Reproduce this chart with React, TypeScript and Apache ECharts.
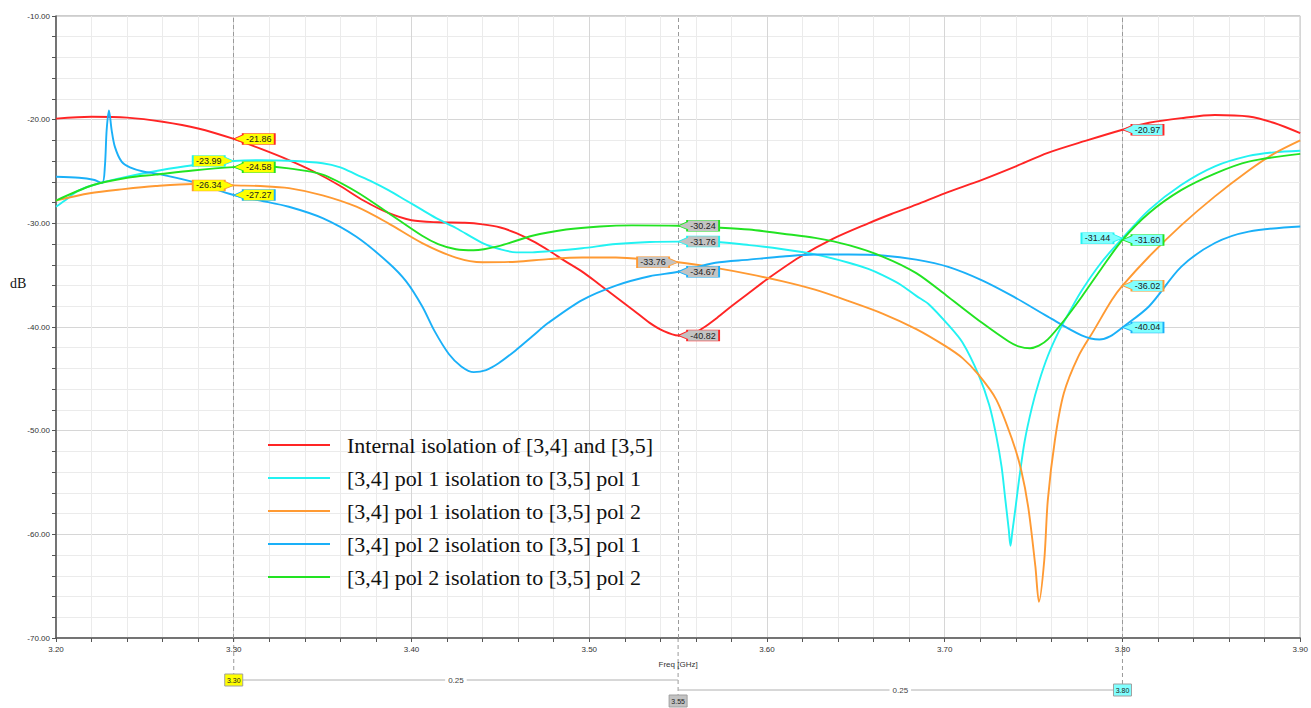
import React, { useEffect, useRef } from "react";
import * as echarts from "echarts";

// ---------- data ----------
const SERIES_NAMES = [
  "Internal isolation of [3,4] and [3,5]",
  "[3,4] pol 1 isolation to [3,5] pol 1",
  "[3,4] pol 1 isolation to [3,5] pol 2",
  "[3,4] pol 2 isolation to [3,5] pol 1",
  "[3,4] pol 2 isolation to [3,5] pol 2",
];
const SERIES_COLORS = ["#ff2525", "#22f2f2", "#ff9a33", "#1ab0f8", "#22e322"];

const FREQ_RED = [3.2, 3.22, 3.24, 3.26, 3.28, 3.3, 3.315, 3.331, 3.345, 3.359, 3.373, 3.387, 3.4, 3.415, 3.43, 3.44, 3.45, 3.459, 3.468, 3.477, 3.486, 3.496, 3.505, 3.515, 3.525, 3.534, 3.542, 3.55, 3.557, 3.564, 3.572, 3.58, 3.59, 3.6, 3.618, 3.637, 3.657, 3.67, 3.684, 3.7, 3.721, 3.74, 3.758, 3.78, 3.8, 3.815, 3.833, 3.852, 3.871, 3.885, 3.9];
const DB_RED = [-19.9, -19.72, -19.8, -20.2, -20.85, -21.86, -22.8, -23.9, -25.0, -26.3, -27.8, -29.0, -29.7, -29.9, -29.95, -30.1, -30.4, -30.95, -31.7, -32.6, -33.6, -34.66, -35.8, -37.1, -38.4, -39.6, -40.4, -40.82, -40.75, -40.1, -39.1, -38.0, -36.7, -35.4, -33.3, -31.5, -30.0, -29.1, -28.2, -27.1, -25.8, -24.5, -23.2, -22.0, -20.97, -20.3, -19.85, -19.55, -19.7, -20.3, -21.3];

const FREQ_CYAN = [3.2, 3.205, 3.212, 3.221, 3.24, 3.258, 3.277, 3.3, 3.315, 3.331, 3.35, 3.36, 3.369, 3.378, 3.387, 3.397, 3.406, 3.415, 3.425, 3.44, 3.45, 3.459, 3.468, 3.477, 3.496, 3.515, 3.534, 3.55, 3.571, 3.59, 3.609, 3.627, 3.646, 3.657, 3.665, 3.675, 3.684, 3.691, 3.702, 3.71, 3.719, 3.725, 3.729, 3.732, 3.734, 3.736, 3.737, 3.738, 3.74, 3.742, 3.745, 3.749, 3.753, 3.758, 3.764, 3.77, 3.777, 3.788, 3.8, 3.815, 3.833, 3.852, 3.871, 3.885, 3.9];
const DB_CYAN = [-28.4, -27.8, -26.9, -26.3, -25.5, -24.9, -24.4, -23.99, -23.9, -23.96, -24.2, -24.6, -25.3, -26.0, -26.8, -27.8, -28.7, -29.6, -30.45, -31.9, -32.5, -32.8, -32.8, -32.7, -32.4, -32.0, -31.8, -31.76, -31.8, -32.1, -32.5, -33.0, -33.8, -34.4, -35.0, -35.9, -37.0, -37.8, -39.8, -41.5, -44.6, -47.5, -50.5, -53.5, -56.5, -59.5, -61.1, -59.8, -57.2, -54.5, -51.0, -47.8, -45.3, -42.8, -40.5, -38.6, -36.5, -33.8, -31.44, -28.7, -26.3, -24.5, -23.5, -23.15, -23.0];

const FREQ_ORANGE = [3.2, 3.219, 3.238, 3.256, 3.277, 3.3, 3.315, 3.331, 3.35, 3.369, 3.387, 3.406, 3.425, 3.44, 3.459, 3.477, 3.496, 3.515, 3.534, 3.55, 3.571, 3.59, 3.609, 3.627, 3.646, 3.665, 3.684, 3.7, 3.71, 3.719, 3.729, 3.738, 3.743, 3.747, 3.751, 3.753, 3.756, 3.758, 3.762, 3.767, 3.775, 3.784, 3.794, 3.8, 3.815, 3.833, 3.852, 3.871, 3.885, 3.9];
const DB_ORANGE = [-27.8, -27.1, -26.7, -26.4, -26.2, -26.34, -26.4, -26.6, -27.3, -28.4, -30.0, -31.9, -33.3, -33.75, -33.7, -33.45, -33.3, -33.3, -33.5, -33.76, -34.3, -34.9, -35.6, -36.4, -37.5, -38.7, -40.2, -41.8, -43.0, -44.6, -47.0, -50.9, -53.8, -57.4, -63.1, -66.5, -62.5, -56.7, -50.9, -46.4, -42.9, -40.3, -37.4, -36.02, -33.2, -30.2, -27.4, -24.9, -23.3, -22.0];

const FREQ_BLUE = [3.2, 3.213, 3.221, 3.226, 3.2275, 3.2285, 3.2298, 3.2313, 3.2331, 3.2369, 3.2416, 3.249, 3.258, 3.277, 3.3, 3.315, 3.331, 3.35, 3.369, 3.387, 3.397, 3.406, 3.413, 3.421, 3.428, 3.435, 3.442, 3.449, 3.459, 3.468, 3.477, 3.496, 3.515, 3.534, 3.55, 3.571, 3.59, 3.609, 3.627, 3.646, 3.665, 3.684, 3.702, 3.721, 3.739, 3.758, 3.777, 3.787, 3.793, 3.8, 3.815, 3.833, 3.852, 3.871, 3.9];
const DB_BLUE = [-25.5, -25.6, -25.8, -26.1, -24.5, -21.0, -19.1, -21.0, -22.6, -24.05, -24.6, -25.0, -25.25, -26.0, -27.27, -27.8, -28.4, -29.5, -31.3, -33.8, -35.6, -38.0, -40.4, -42.6, -43.8, -44.35, -44.15, -43.5, -42.2, -40.9, -39.6, -37.4, -36.0, -35.1, -34.67, -33.8, -33.5, -33.2, -33.0, -33.0, -33.1, -33.5, -34.2, -35.5, -37.1, -39.0, -40.8, -41.2, -40.9, -40.04, -38.0, -34.2, -31.9, -30.8, -30.3];

const FREQ_GREEN = [3.2, 3.221, 3.24, 3.256, 3.277, 3.3, 3.315, 3.331, 3.35, 3.369, 3.387, 3.406, 3.415, 3.425, 3.435, 3.449, 3.468, 3.487, 3.506, 3.524, 3.55, 3.571, 3.59, 3.609, 3.627, 3.646, 3.665, 3.684, 3.702, 3.721, 3.736, 3.742, 3.748, 3.753, 3.758, 3.767, 3.777, 3.788, 3.8, 3.815, 3.833, 3.852, 3.871, 3.9];
const DB_GREEN = [-27.8, -26.3, -25.6, -25.3, -24.9, -24.58, -24.5, -24.7, -25.3, -26.95, -29.0, -31.2, -32.0, -32.5, -32.6, -32.2, -31.2, -30.6, -30.3, -30.2, -30.24, -30.4, -30.6, -31.0, -31.4, -32.1, -33.2, -34.8, -37.1, -39.6, -41.4, -41.9, -42.05, -41.8, -41.2, -39.4, -37.1, -34.4, -31.6, -29.0, -26.8, -25.2, -24.05, -23.3];

// markers
const MARKER_FREQS = [3.3, 3.55, 3.8];
const MARKER_FILLS = ["#ffff00", "#c3c3c3", "#80ffff"];
const MARKER_VALUES = [
  [-21.86, -40.82, -20.97],
  [-23.99, -31.76, -31.44],
  [-26.34, -33.76, -36.02],
  [-27.27, -34.67, -40.04],
  [-24.58, -30.24, -31.6],
];
// true = tag drawn on the left of the marker line
const MARKER_LEFT = [
  [false, false, false],
  [true, false, true],
  [true, true, false],
  [false, false, false],
  [false, false, false],
];
const DELTA_TEXT = ["0.25", "0.25"];

const X_MIN = 3.2;
const X_MAX = 3.9;
const Y_MIN = -70;
const Y_MAX = -10;

const FREQS = [FREQ_RED, FREQ_CYAN, FREQ_ORANGE, FREQ_BLUE, FREQ_GREEN];
const DBS = [DB_RED, DB_CYAN, DB_ORANGE, DB_BLUE, DB_GREEN];

const SANS = "Liberation Sans, Arial, sans-serif";
const SERIF = "Liberation Serif, Times New Roman, serif";

const TAG_RIGHT = "path://M0,5.5L9,1.5L9,0L41,0L41,11L9,11L9,9Z";
const TAG_LEFT = "path://M0,0L32,0L32,1.5L41,5.5L32,9L32,11L0,11Z";

export default function App() {
  const ref = useRef<HTMLDivElement>(null);

  useEffect(() => {
    document.body.style.margin = "0";
    if (!ref.current) return;
    const chart = echarts.init(ref.current, null, { renderer: "svg" });

    const series: any[] = SERIES_NAMES.map((name, si) => {
      const data = FREQS[si].map((f, i) => [f, DBS[si][i]]);
      const mp = MARKER_FREQS.map((mf, mi) => {
        const v = MARKER_VALUES[si][mi];
        const left = MARKER_LEFT[si][mi];
        return {
          coord: [mf, v],
          value: v.toFixed(2),
          symbol: left ? TAG_LEFT : TAG_RIGHT,
          symbolSize: [41, 11],
          symbolOffset: [left ? -20.5 : 20.5, 0],
          symbolKeepAspect: false,
          itemStyle: {
            color: MARKER_FILLS[mi],
            borderColor: SERIES_COLORS[si],
            borderWidth: 1,
          },
          label: {
            show: true,
            position: "inside",
            offset: [left ? -4.5 : 4.5, 0],
            formatter: v.toFixed(2),
            color: "#222",
            fontSize: 9,
            fontFamily: SANS,
          },
        };
      });
      const s: any = {
        name,
        type: "line",
        data,
        showSymbol: false,
        smooth: 0.3,
        lineStyle: { color: SERIES_COLORS[si], width: 1.9 },
        itemStyle: { color: SERIES_COLORS[si] },
        z: 3,
        markPoint: { silent: true, data: mp, z: 10 },
      };
      if (si === 0) {
        s.markLine = {
          silent: true,
          symbol: ["none", "none"],
          label: { show: false },
          lineStyle: { color: "#9a9a9a", type: [4, 3], width: 1 },
          data: MARKER_FREQS.map((f) => ({ xAxis: f })),
          z: 2,
        };
      }
      return s;
    });

    const option: any = {
      animation: false,
      backgroundColor: "#ffffff",
      grid: {
        left: 56,
        right: 9,
        top: 16,
        bottom: 70,
        show: true,
        borderColor: "#9a9a9a",
        borderWidth: 1,
      },
      legend: {
        left: 268,
        top: 434,
        padding: 0,
        orient: "vertical",
        icon: "rect",
        itemWidth: 62,
        itemHeight: 2,
        itemGap: 11,
        data: SERIES_NAMES,
        textStyle: {
          fontFamily: SERIF,
          fontSize: 22,
          lineHeight: 22,
          color: "#111",
          padding: [0, 0, 0, 12],
        },
      },
      xAxis: {
        type: "value",
        min: X_MIN,
        max: X_MAX,
        interval: 0.1,
        name: "Freq [GHz]",
        nameLocation: "middle",
        nameGap: 22,
        nameTextStyle: { fontFamily: SANS, fontSize: 8, color: "#333" },
        axisLine: { show: true, onZero: false, lineStyle: { color: "#555", width: 1.5 } },
        axisTick: { show: true, length: 4, lineStyle: { color: "#555" } },
        minorTick: { show: true, splitNumber: 5, length: 4, lineStyle: { color: "#555" } },
        axisLabel: {
          formatter: (v: number) => v.toFixed(2),
          fontFamily: SANS,
          fontSize: 8,
          color: "#333",
          margin: 7,
        },
        splitLine: { show: true, lineStyle: { color: "#d6d6d6", width: 1 } },
        minorSplitLine: { show: true, lineStyle: { color: "#ebebeb", width: 1 } },
      },
      yAxis: {
        type: "value",
        min: Y_MIN,
        max: Y_MAX,
        interval: 10,
        axisLine: { show: true, onZero: false, lineStyle: { color: "#555", width: 1.5 } },
        axisTick: { show: true, length: 4, lineStyle: { color: "#555" } },
        minorTick: { show: true, splitNumber: 5, length: 4, lineStyle: { color: "#555" } },
        axisLabel: {
          formatter: (v: number) => v.toFixed(2),
          fontFamily: SANS,
          fontSize: 8,
          color: "#333",
          margin: 6,
        },
        splitLine: { show: true, lineStyle: { color: "#d6d6d6", width: 1 } },
        minorSplitLine: { show: true, lineStyle: { color: "#ebebeb", width: 1 } },
      },
      series,
    };
    chart.setOption(option);

    const px = (f: number) => chart.convertToPixel({ xAxisIndex: 0 }, f) as number;
    const plotBottom = chart.convertToPixel({ yAxisIndex: 0 }, Y_MIN) as number;
    const x0 = px(MARKER_FREQS[0]);
    const x1 = px(MARKER_FREQS[1]);
    const x2 = px(MARKER_FREQS[2]);
    const boxY = [680, 701, 690];
    const g: any[] = [];
    const dash = (x: number, yEnd: number) => ({
      type: "line",
      silent: true,
      shape: { x1: x, y1: plotBottom, x2: x, y2: yEnd },
      style: { stroke: "#9a9a9a", lineDash: [4, 3], lineWidth: 1 },
    });
    g.push(dash(x0, boxY[0] - 6));
    g.push(dash(x1, boxY[1] - 6));
    g.push(dash(x2, boxY[2] - 6));
    // delta lines
    g.push({
      type: "line",
      silent: true,
      shape: { x1: x0 + 9, y1: boxY[0], x2: x1, y2: boxY[0] },
      style: { stroke: "#b0b0b0", lineWidth: 1 },
    });
    g.push({
      type: "line",
      silent: true,
      shape: { x1: x1, y1: boxY[2], x2: x2 - 9, y2: boxY[2] },
      style: { stroke: "#b0b0b0", lineWidth: 1 },
    });
    g.push({
      type: "text",
      silent: true,
      x: (x0 + x1) / 2,
      y: boxY[0],
      style: {
        text: DELTA_TEXT[0],
        fill: "#444",
        font: `8px ${SANS}`,
        align: "center",
        verticalAlign: "middle",
        backgroundColor: "#fff",
        padding: [0, 3],
      },
    });
    g.push({
      type: "text",
      silent: true,
      x: (x1 + x2) / 2,
      y: boxY[2],
      style: {
        text: DELTA_TEXT[1],
        fill: "#444",
        font: `8px ${SANS}`,
        align: "center",
        verticalAlign: "middle",
        backgroundColor: "#fff",
        padding: [0, 3],
      },
    });
    [x0, x1, x2].forEach((x, i) => {
      g.push({
        type: "rect",
        silent: true,
        shape: { x: x - 9, y: boxY[i] - 6, width: 18, height: 12 },
        style: { fill: MARKER_FILLS[i], stroke: "#a0a0a0", lineWidth: 1 },
      });
      g.push({
        type: "text",
        silent: true,
        x,
        y: boxY[i],
        style: {
          text: MARKER_FREQS[i].toFixed(2),
          fill: "#222",
          font: `7px ${SANS}`,
          align: "center",
          verticalAlign: "middle",
        },
      });
    });
    g.push({
      type: "text",
      silent: true,
      x: 10,
      y: 283,
      style: {
        text: "dB",
        fill: "#111",
        font: `14px ${SERIF}`,
        align: "left",
        verticalAlign: "middle",
      },
    });
    chart.setOption({ graphic: g });

    return () => chart.dispose();
  }, []);

  return <div ref={ref} style={{ width: 1311, height: 708 }} />;
}
